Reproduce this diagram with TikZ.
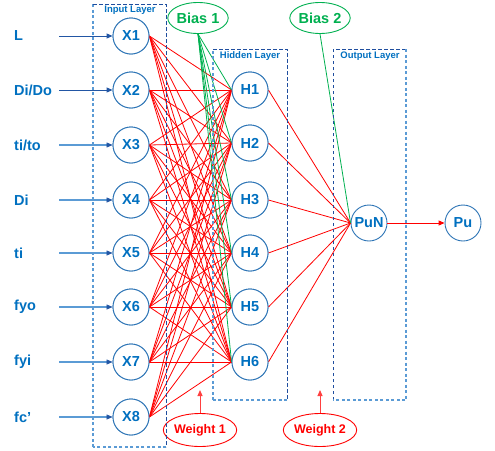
\documentclass[tikz,border=0pt]{standalone}
\usepackage{fontspec}
\setmainfont{Liberation Sans}
\usetikzlibrary{arrows.meta,shapes.geometric}
\definecolor{tblue}{HTML}{0070C0}
\definecolor{cblue}{HTML}{2E75B6}
\definecolor{dblue}{HTML}{1F4E9F}
\definecolor{lblue}{HTML}{5B9BD5}
\definecolor{gr}{HTML}{00B050}
\definecolor{rd}{HTML}{FF0000}
\definecolor{lrd}{HTML}{FF4040}
\begin{document}
\begin{tikzpicture}[x=1pt,y=-1pt,
  neuron/.style={circle, draw=cblue, line width=0.9pt, fill=white, minimum size=36pt, inner sep=0pt, text=tblue, font=\bfseries\fontsize{14.5}{16}\selectfont},
  inlabel/.style={anchor=west, inner sep=0pt, text=tblue, font=\bfseries\fontsize{14.5}{16}\selectfont},
  laylabel/.style={inner sep=0pt, text=tblue, font=\bfseries\fontsize{9.5}{11}\selectfont},
  biasnode/.style={ellipse, draw=gr, line width=0.9pt, fill=white, minimum width=57pt, minimum height=31pt, inner sep=0pt, text=gr, font=\bfseries\fontsize{14.5}{16}\selectfont},
  weightnode/.style={ellipse, draw=rd, line width=0.9pt, fill=white, minimum width=61pt, minimum height=33pt, inner sep=0pt, text=rd, font=\bfseries\fontsize{12.5}{14}\selectfont},
  wline/.style={draw=rd, line width=0.8pt},
  bline/.style={draw=gr, line width=0.8pt},
  darkarrow/.style={draw=dblue!80!cblue, line width=1pt, -{Triangle[length=6pt,width=5pt]}},
  lightarrow/.style={draw=lblue, line width=1.2pt, -{Triangle[length=6pt,width=5pt]}, {Triangle[length=6pt,width=5pt,fill=dblue!80!cblue]}-},
  redarrow/.style={draw=lrd, line width=1pt, -{Triangle[length=6pt,width=5pt]}},
  darkdash/.style={draw=dblue, line width=1pt, dash pattern=on 3.5pt off 2.5pt},
  lightdash/.style={draw=lblue, line width=1.6pt, dash pattern=on 3pt off 2.5pt}
]
\useasboundingbox (0,0) rectangle (495,450);

% nodes
\foreach \i/\y in {1/36,2/90,3/145,4/200,5/253,6/307,7/362,8/417}
  \node[neuron] (x\i) at (131,\y) {X\i};
\foreach \i/\y in {1/90,2/143,3/200,4/253,5/307,6/362}
  \node[neuron] (h\i) at (250,\y) {H\i};
\node[neuron] (pun) at (369,223) {PuN};
\node[neuron] (pu) at (463,223) {Pu};

\node[biasnode] (b1) at (198,18) {Bias 1};
\node[biasnode] (b2) at (320,18) {Bias 2};
\node[weightnode] (w1) at (200,430) {Weight 1};
\node[weightnode] (w2) at (320,430) {Weight 2};

% connections input -> hidden
\foreach \i in {1,...,8}
  \foreach \j in {1,...,6}
    \draw[wline] (x\i.east) -- (h\j.west);
% bias 1
\foreach \j in {1,...,6}
  \draw[bline] (b1.south) -- (h\j.west);
% hidden -> output
\foreach \j in {1,...,6}
  \draw[wline] (h\j.east) -- (pun.west);
\draw[bline] (b2.south) -- (pun.west);
\draw[draw=rd, line width=0.9pt, -{Triangle[length=6pt,width=5pt]}] (pun.east) -- (pu.west);

% layer boxes
\draw[lightdash] (93,447) -- (93,4);
\draw[darkdash] (93,4) -- (166,4) -- (166,447);
\draw[lightdash] (166,447) -- (93,447);
\node[laylabel] (labin) at (130,10) {Input Layer};

\draw[lightdash] (213,400) -- (213,49);
\draw[darkdash] (213,49) -- (287,49) -- (287,400);
\draw[lightdash] (287,400) -- (213,400);
\node[laylabel] (labhid) at (250,56) {Hidden Layer};

\draw[darkdash] (333,400) -- (333,49) -- (406,49);
\draw[lightdash] (406,49) -- (406,400) -- (333,400);
\node[laylabel] (labout) at (370,56) {Output Layer};

% redraw nodes on top
\foreach \i/\y in {1/36,2/90,3/145,4/200,5/253,6/307,7/362,8/417}
  \node[neuron] at (x\i) {X\i};
\foreach \i/\y in {1/90,2/143,3/200,4/253,5/307,6/362}
  \node[neuron] at (h\i) {H\i};

% input labels and arrows
\foreach \i/\y/\t in {1/36/L,2/90/{Di/Do},3/145/{ti/to},4/200/Di,5/253/ti,6/307/fyo,7/362/fyi,8/417/{fc’}}{
  \node[inlabel] (in\i) at (14,\y) {\t};
  \coordinate (s\i) at (59,\y);
}
\draw[darkarrow] (s1) -- (x1.west);
\draw[darkarrow] (s2) -- (x2.west);
\foreach \i in {3,...,8}
  \draw[draw=lblue, line width=1.2pt] (s\i) -- ([xshift=-5pt]x\i.west);
\foreach \i in {3,...,8}
  \draw[draw=dblue!80!cblue, line width=0.6pt, -{Triangle[length=6pt,width=5pt]}] ([xshift=-6pt]x\i.west) -- (x\i.west);

% weight arrows
\coordinate (wa1) at (200,390);
\coordinate (wa2) at (320,390);
\draw[redarrow] (w1.north) -- (wa1);
\draw[redarrow] (w2.north) -- (wa2);
\end{tikzpicture}
\end{document}
